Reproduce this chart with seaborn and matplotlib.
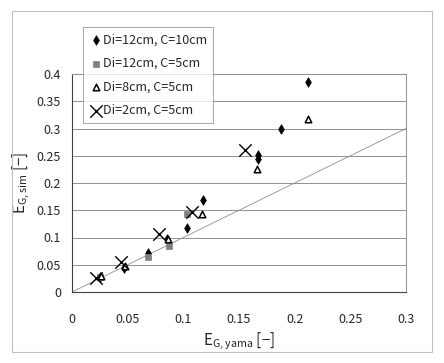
import matplotlib
matplotlib.use("Agg")
import matplotlib.pyplot as plt
import seaborn as sns
from matplotlib.patches import Rectangle

# ---- data ----
labels = ["Di=12cm, C=10cm", "Di=12cm, C=5cm", "Di=8cm, C=5cm", "Di=2cm, C=5cm"]
x_d12c10 = [0.025, 0.047, 0.068, 0.085, 0.103, 0.118, 0.167, 0.167, 0.188, 0.212]
y_d12c10 = [0.028, 0.044, 0.072, 0.097, 0.118, 0.169, 0.252, 0.244, 0.299, 0.385]
x_d12c5 = [0.025, 0.068, 0.087, 0.103]
y_d12c5 = [0.027, 0.065, 0.085, 0.143]
x_d8c5 = [0.026, 0.048, 0.086, 0.117, 0.166, 0.212]
y_d8c5 = [0.030, 0.048, 0.098, 0.144, 0.225, 0.317]
x_d2c5 = [0.022, 0.044, 0.078, 0.108, 0.155]
y_d2c5 = [0.025, 0.055, 0.106, 0.146, 0.260]
line_x = [0.0, 0.3]
line_y = [0.0, 0.3]
x_ticks = [0, 0.05, 0.1, 0.15, 0.2, 0.25, 0.3]
y_ticks = [0, 0.05, 0.1, 0.15, 0.2, 0.25, 0.3, 0.35, 0.4]

sns.set_style("white")
plt.rcParams['font.family'] = ['Noto Sans CJK JP', 'DejaVu Sans']

W, H = 444, 363
fig = plt.figure(figsize=(W / 100, H / 100), dpi=100)
fig.patches.append(Rectangle((12 / W, 1 - 352 / H), 420 / W, 341 / H,
                             transform=fig.transFigure, fill=False,
                             edgecolor="#c0c0c0", linewidth=0.8))

left, right, top, bottom = 72, 406, 74, 292
ax = fig.add_axes([left / W, 1 - bottom / H, (right - left) / W, (bottom - top) / H])

# gridlines
for yt in y_ticks[1:]:
    ax.axhline(yt, color="#909090", linewidth=0.7, zorder=0)

sns.lineplot(x=line_x, y=line_y, ax=ax, color="#909090", linewidth=0.6, zorder=1)

sns.scatterplot(x=x_d12c10, y=y_d12c10, ax=ax, marker="d", s=24, color="black",
                edgecolor="black", linewidth=0.5, label=labels[0], zorder=3)
sns.scatterplot(x=x_d12c5, y=y_d12c5, ax=ax, marker="s", s=20, color="#808080",
                edgecolor="#808080", linewidth=0.5, label=labels[1], zorder=3)
sns.scatterplot(x=x_d8c5, y=y_d8c5, ax=ax, marker="^", s=22, facecolor="white",
                edgecolor="black", linewidth=1.1, label=labels[2], zorder=3)
sns.scatterplot(x=x_d2c5, y=y_d2c5, ax=ax, marker="x", s=80, color="black",
                linewidth=1.0, label=labels[3], zorder=3)

ax.set_xlim(0, 0.3)
ax.set_ylim(0, 0.4)
ax.set_xticks(x_ticks)
ax.set_yticks(y_ticks)
ax.set_xticklabels(["0", "0.05", "0.1", "0.15", "0.2", "0.25", "0.3"])
ax.set_yticklabels(["0", "0.05", "0.1", "0.15", "0.2", "0.25", "0.3", "0.35", "0.4"])
ax.tick_params(axis="x", direction="in", length=4, width=0.7, color="#606060",
               labelsize=9, pad=15)
ax.tick_params(axis="y", length=0, labelsize=9, pad=8)
for side in ["top", "right"]:
    ax.spines[side].set_color("#909090")
    ax.spines[side].set_linewidth(0.7)
for side in ["left", "bottom"]:
    ax.spines[side].set_color("#404040")
    ax.spines[side].set_linewidth(0.8)

ax.set_xlabel(r"E$_{\mathregular{G,yama}}$ [−]", fontsize=11, labelpad=3)
ax.set_ylabel(r"E$_{\mathregular{G,sim}}$ [−]", fontsize=11, labelpad=4)

leg = ax.legend(loc="upper left", bbox_to_anchor=(83 / W, 1 - 27 / H),
                bbox_transform=fig.transFigure, frameon=True, fancybox=False,
                fontsize=9, handletextpad=0.1, handlelength=1.0,
                borderpad=0.5, labelspacing=0.85, borderaxespad=0)
leg.get_frame().set_edgecolor("#909090")
leg.get_frame().set_linewidth(0.7)

fig.savefig("out.png", dpi=100)
